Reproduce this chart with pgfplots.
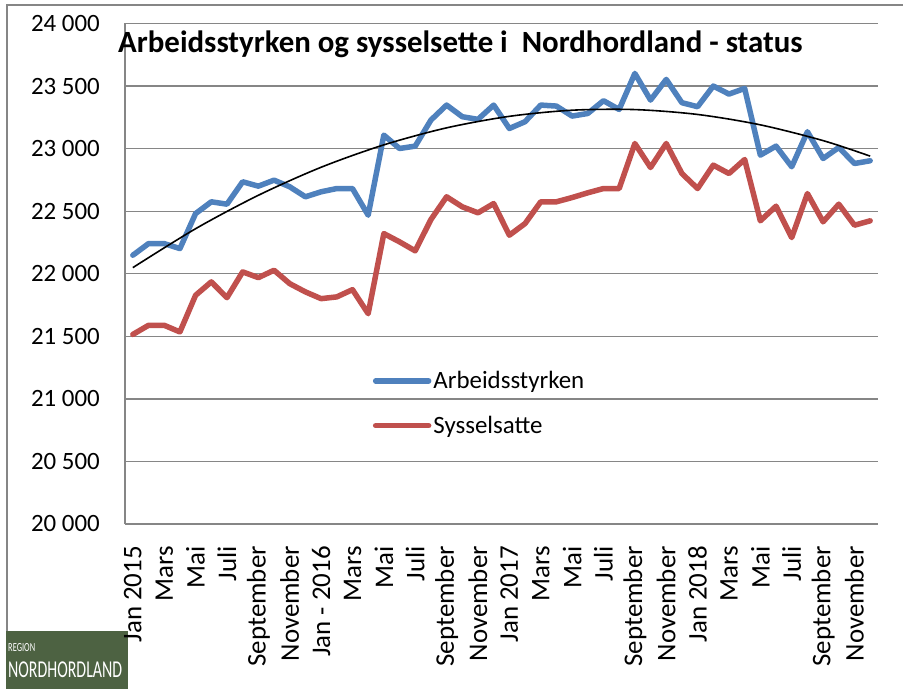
\documentclass[border=0pt]{standalone}
\usepackage{fontspec}
\setmainfont{Carlito}
\usepackage{graphicx}
\usepackage{pgfplots}
\usepackage{pgfplotstable}
\pgfplotsset{compat=1.18}
\definecolor{blueS}{HTML}{4F81BD}
\definecolor{redS}{HTML}{C0504D}
\definecolor{gridc}{HTML}{868686}
\definecolor{logog}{RGB}{77,98,66}
\pgfplotstableread{
i a s
0 22148 21515
1 22241 21588
2 22241 21588
3 22201 21535
4 22481 21828
5 22575 21935
6 22556 21809
7 22735 22015
8 22700 21969
9 22748 22028
10 22695 21921
11 22615 21855
12 22655 21801
13 22681 21815
14 22681 21873
15 22468 21681
16 23108 22321
17 23001 22255
18 23020 22183
19 23228 22433
20 23348 22615
21 23255 22535
22 23234 22487
23 23348 22561
24 23161 22308
25 23215 22401
26 23348 22575
27 23340 22575
28 23260 22609
29 23281 22647
30 23383 22681
31 23313 22681
32 23601 23041
33 23388 22849
34 23553 23041
35 23367 22801
36 23335 22681
37 23500 22868
38 23436 22801
39 23481 22913
40 22948 22423
41 23020 22540
42 22855 22289
43 23135 22641
44 22921 22415
45 23009 22556
46 22881 22388
47 22903 22423
}\datatable
\pgfplotstableread{
i t
0 22049
4 22360
8 22627
12 22851
16 23030
20 23166
24 23258
28 23307
32 23312
36 23273
40 23190
44 23064
47 22940
}\trendtable
\begin{document}
\begin{tikzpicture}
\useasboundingbox (0bp,0bp) rectangle (903bp,689bp);
\draw[gridc, line width=1.5bp] (7bp,58bp) -- (7bp,684bp) -- (903bp,684bp);
\fill[logog] (6bp,0bp) rectangle (128bp,58bp);
\node[white, anchor=west, inner sep=0pt] at (8bp,41bp) {\resizebox{27bp}{8bp}{REGION}};
\node[white, anchor=south west, inner sep=0pt] at (8bp,10.7bp) {\resizebox{114bp}{15.7bp}{NORDHORDLAND}};
\begin{axis}[
  at={(125bp,165bp)}, anchor=south west,
  scale only axis, width=753bp, height=500.5bp,
  xmin=-0.5, xmax=47.5, ymin=20000, ymax=24000,
  scaled y ticks=false,
  axis lines*=left,
  axis line style={gridc, line width=1.3bp},
  ymajorgrids, grid style={gridc, line width=1.3bp},
  major tick length=0pt,
  xtick={0,2,...,46},
  xticklabels={Jan 2015, Mars, Mai, Juli, September, November, Jan - 2016, Mars, Mai, Juli, September, November, Jan 2017, Mars, Mai, Juli, September, November, Jan 2018, Mars, Mai, Juli, September, November},
  x tick label style={rotate=90, anchor=east, inner sep=0pt, font=\fontsize{27}{32}\selectfont},
  xticklabel shift=22bp,
  ytick={20000,20500,...,24000},
  yticklabels={20 000, 20 500, 21 000, 21 500, 22 000, 22 500, 23 000, 23 500, 24 000},
  y tick label style={anchor=east, inner sep=0pt, font=\fontsize{25}{30}\selectfont},
  yticklabel shift=25bp,
  legend style={draw=none, fill=none, at={(0.325,0.313)}, anchor=north west, font=\fontsize{25}{30}\selectfont, row sep=22bp},
  legend cell align=left,
  legend image code/.code={\draw[#1] (0bp,0bp) -- (53bp,0bp);},
  clip=false,
]
\addplot[blueS, line width=5.5bp, line join=round, line cap=round] table[x=i, y=a] {\datatable};
\addlegendentry{Arbeidsstyrken}
\addplot[redS, line width=5.5bp, line join=round, line cap=round] table[x=i, y=s] {\datatable};
\addlegendentry{Sysselsatte}
\addplot[black, line width=1.6bp, smooth, forget plot] table[x=i, y=t] {\trendtable};
\end{axis}
\node[anchor=west, inner sep=0pt] at (118bp,645bp) {\bfseries\fontsize{31}{36}\selectfont Arbeidsstyrken og sysselsette i\ \ Nordhordland - status};
\end{tikzpicture}
\end{document}
